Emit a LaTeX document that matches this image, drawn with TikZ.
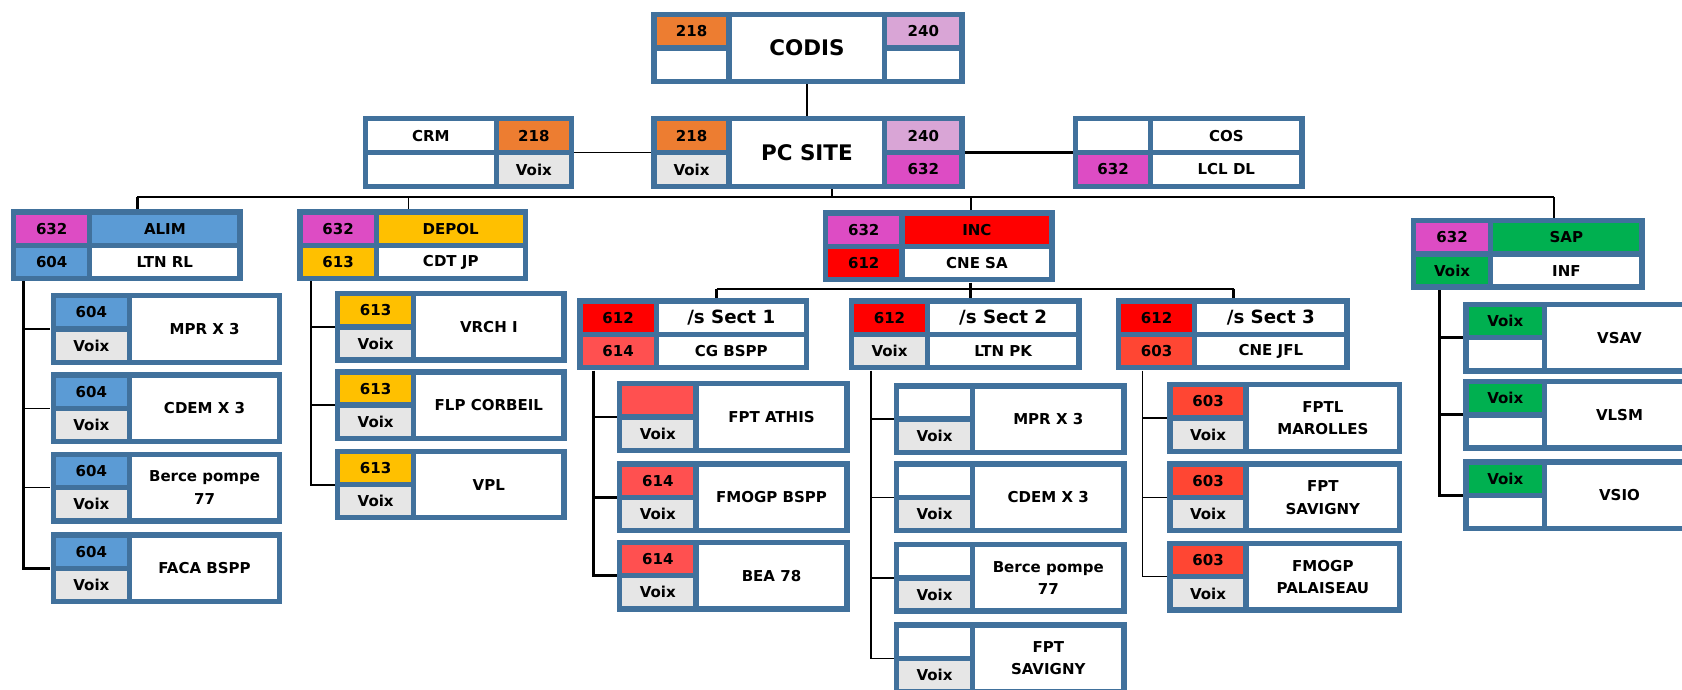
\documentclass[tikz,border=0pt]{standalone}
\usepackage{fontspec}
\setmainfont{DejaVu Sans}
\definecolor{bd}{HTML}{41719C}
\definecolor{cor}{HTML}{ED7D31}
\definecolor{cpl}{HTML}{D9A5D6}
\definecolor{cmg}{HTML}{DD4CC4}
\definecolor{cvx}{HTML}{E6E6E6}
\definecolor{cbl}{HTML}{5B9BD5}
\definecolor{cam}{HTML}{FFC000}
\definecolor{crd}{HTML}{FF0000}
\definecolor{csl}{HTML}{FF5050}
\definecolor{cos}{HTML}{FF4633}
\definecolor{cgr}{HTML}{00B050}
\newcommand\ft{\fontsize{14}{21}\selectfont\bfseries}
\newcommand\fmid{\fontsize{17}{20}\selectfont\bfseries}
\newcommand\fbig{\fontsize{20}{23}\selectfont\bfseries}
\def\B{5}\def\G{5}
\newcommand\mkframe[5]{%
  \def\bn{#1}\def\bx{#2}\def\by{#3}\def\bw{#4}\def\bh{#5}%
  \node[boxframe, minimum width=#4pt, minimum height=#5pt, anchor=north west] (#1) at (#2,#3) {};}
\newcommand\mkcell[7]{%
  \pgfmathsetmacro\cwa{(#4)-(#2)}\pgfmathsetmacro\cha{(#5)-(#3)}%
  \node[cellst, fill=#6, minimum width=\cwa pt, minimum height=\cha pt, anchor=north west] (\bn-#1) at ({\bx+(#2)},{\by+(#3)}) {#7};}
\newcommand\cLT[2]{\mkcell{lt}{\B}{\B}{\B+\lw}{\bh/2-\G/2}{#1}{#2}}
\newcommand\cLB[2]{\mkcell{lb}{\B}{\bh/2+\G/2}{\B+\lw}{\bh-\B}{#1}{#2}}
\newcommand\cRT[2]{\mkcell{rt}{\B+\G+\lw}{\B}{\bw-\B}{\bh/2-\G/2}{#1}{#2}}
\newcommand\cRB[2]{\mkcell{rb}{\B+\G+\lw}{\bh/2+\G/2}{\bw-\B}{\bh-\B}{#1}{#2}}
\newcommand\cRM[2]{\mkcell{rm}{\B+\G+\lw}{\B}{\bw-\B}{\bh-\B}{#1}{#2}}
\newcommand\cCM[2]{\mkcell{cm}{\B+\G+\lw}{\B}{\bw-\B-\G-\rw}{\bh-\B}{#1}{#2}}
\newcommand\cXT[2]{\mkcell{xt}{\bw-\B-\rw}{\B}{\bw-\B}{\bh/2-\G/2}{#1}{#2}}
\newcommand\cXB[2]{\mkcell{xb}{\bw-\B-\rw}{\bh/2+\G/2}{\bw-\B}{\bh-\B}{#1}{#2}}
% child box: name x y w toptext topcolor botcolor bottext righttext
\newcommand\kid[9]{\mkframe{#1}{#2}{#3}{#4}{67}\cLT{#6}{#5}\cLB{#7}{#8}\cRM{white}{#9}}
\begin{document}
\begin{tikzpicture}[x=1pt,y=-1pt,
  boxframe/.style={fill=bd, draw=none, inner sep=0pt, rectangle},
  cellst/.style={draw=none, inner sep=0pt, rectangle, align=center, font=\ft},
  link/.style={draw=black, line width=1.8pt},
  linkthin/.style={draw=black, line width=1.2pt},
  linkthick/.style={draw=black, line width=2.6pt}]
\useasboundingbox[fill=white] (0,0) rectangle (1568,643);
% top
\def\lw{65}\def\rw{67}
\mkframe{codis}{607}{11}{292}{67}
\cLT{cor}{218}\cLB{white}{}\cCM{white}{\fbig CODIS}\cXT{cpl}{240}\cXB{white}{}
\mkframe{pcsite}{607}{108}{292}{68}
\cLT{cor}{218}\cLB{cvx}{Voix}\cCM{white}{\fbig PC SITE}\cXT{cpl}{240}\cXB{cmg}{632}
\def\lw{117}
\mkframe{crm}{338}{108}{197}{68}
\cLT{white}{CRM}\cLB{white}{}\cRT{cor}{218}\cRB{cvx}{Voix}
\def\lw{65}
\mkframe{cosb}{1000}{108}{216}{68}
\cLT{white}{}\cLB{cmg}{632}\cRT{white}{COS}\cRB{white}{LCL DL}
% second row
\def\lw{66}
\mkframe{alim}{10}{195}{216}{67}
\cLT{cmg}{632}\cLB{cbl}{604}\cRT{cbl}{ALIM}\cRB{white}{LTN RL}
\mkframe{depol}{277}{195}{215}{67}
\cLT{cmg}{632}\cLB{cam}{613}\cRT{cam}{DEPOL}\cRB{white}{CDT JP}
\mkframe{inc}{767}{196}{216}{67}
\cLT{cmg}{632}\cLB{crd}{612}\cRT{crd}{INC}\cRB{white}{CNE SA}
\def\lw{67}
\mkframe{sap}{1315}{203}{218}{67}
\cLT{cmg}{632}\cLB{cgr}{Voix}\cRT{cgr}{SAP}\cRB{white}{INF}
% sections
\def\lw{66}
\mkframe{sa}{538}{278}{216}{67}
\cLT{crd}{612}\cLB{csl}{614}\cRT{white}{\fmid /s Sect 1}\cRB{white}{CG BSPP}
\mkframe{sb}{791}{278}{217}{67}
\cLT{crd}{612}\cLB{cvx}{Voix}\cRT{white}{\fmid /s Sect 2}\cRB{white}{LTN PK}
\mkframe{sc}{1040}{278}{218}{67}
\cLT{crd}{612}\cLB{cos}{603}\cRT{white}{\fmid /s Sect 3}\cRB{white}{CNE JFL}
% children
\def\lw{66}
\kid{a1}{47}{273}{216}{604}{cbl}{cvx}{Voix}{MPR X 3}
\kid{a2}{47}{347}{216}{604}{cbl}{cvx}{Voix}{CDEM X 3}
\kid{a3}{47}{421}{216}{604}{cbl}{cvx}{Voix}{Berce pompe\\77}
\kid{a4}{47}{496}{216}{604}{cbl}{cvx}{Voix}{FACA BSPP}
\kid{d1}{312}{271}{216}{613}{cam}{cvx}{Voix}{VRCH I}
\kid{d2}{312}{344}{216}{613}{cam}{cvx}{Voix}{FLP CORBEIL}
\kid{d3}{312}{418}{216}{613}{cam}{cvx}{Voix}{VPL}
\kid{p1}{575}{355}{217}{}{csl}{cvx}{Voix}{FPT ATHIS}
\kid{p2}{575}{430}{217}{614}{csl}{cvx}{Voix}{FMOGP BSPP}
\kid{p3}{575}{503}{217}{614}{csl}{cvx}{Voix}{BEA 78}
\kid{q1}{833}{357}{217}{}{white}{cvx}{Voix}{MPR X 3}
\kid{q2}{833}{430}{217}{}{white}{cvx}{Voix}{CDEM X 3}
\kid{q3}{833}{505}{217}{}{white}{cvx}{Voix}{Berce pompe\\77}
\kid{q4}{833}{580}{217}{}{white}{cvx}{Voix}{FPT\\SAVIGNY}
\kid{r1}{1088}{356}{219}{603}{cos}{cvx}{Voix}{FPTL\\MAROLLES}
\kid{r2}{1088}{430}{219}{603}{cos}{cvx}{Voix}{FPT\\SAVIGNY}
\kid{r3}{1088}{504}{219}{603}{cos}{cvx}{Voix}{FMOGP\\PALAISEAU}
\def\lw{68}
\kid{s1}{1364}{281}{218}{Voix}{cgr}{white}{}{VSAV}
\kid{s2}{1364}{353}{218}{Voix}{cgr}{white}{}{VLSM}
\kid{s3}{1364}{428}{218}{Voix}{cgr}{white}{}{VSIO}
% connectors top
\draw[link] (codis-cm.south |- codis.south) -- (pcsite-cm.north |- pcsite.north);
\draw[linkthin] (crm.east) -- (pcsite.west);
\draw[linkthick] (pcsite.east) -- (cosb.west);
% main bus
\coordinate (bus) at (776,184);
\coordinate (bA) at (128,184);
\coordinate (bD) at (381,184);
\coordinate (bI) at (905,184);
\coordinate (bS) at (1449,184);
\draw[link] (pcsite.south -| bus) -- (bus);
\draw[link] (bA) -- (bS);
\draw[linkthick] (bA) -- (alim.north -| bA);
\draw[linkthin] (bD) -- (depol.north -| bD);
\draw[link] (bI) -- (inc.north -| bI);
\draw[link] (bS) -- (sap.north -| bS);
% INC sub bus
\coordinate (iS) at (905,269);
\coordinate (i1) at (668,269);
\coordinate (i3) at (1150,269);
\draw[linkthick] (inc.south -| iS) -- (sb.north -| iS);
\draw[link] (i1) -- (i3);
\draw[linkthick] (i1) -- (sa.north -| i1);
\draw[linkthick] (i3) -- (sc.north -| i3);
% trunks
\coordinate (tA) at (22,0);
\coordinate (tD) at (290,0);
\coordinate (tP) at (553,0);
\coordinate (tQ) at (812,0);
\coordinate (tR) at (1065,0);
\coordinate (tS) at (1342,0);
\draw[linkthick] (alim.south -| tA) |- (a4.west);
\foreach \k in {a1,a2,a3} \draw[linkthin] (tA |- \k.west) -- (\k.west);
\draw[link] (depol.south -| tD) |- (d3.west);
\foreach \k in {d1,d2} \draw[link] (tD |- \k.west) -- (\k.west);
\draw[linkthick] (sa.south -| tP) |- (p3.west);
\foreach \k in {p1,p2} \draw[linkthick] (tP |- \k.west) -- (\k.west);
\draw[linkthin] (sb.south -| tQ) |- (q4.west);
\foreach \k in {q1,q2,q3} \draw[linkthin] (tQ |- \k.west) -- (\k.west);
\draw[linkthin] (sc.south -| tR) |- (r3.west);
\foreach \k in {r1,r2} \draw[linkthin] (tR |- \k.west) -- (\k.west);
\draw[linkthick] (sap.south -| tS) |- (s3.west);
\foreach \k in {s1,s2} \draw[linkthick] (tS |- \k.west) -- (\k.west);
\end{tikzpicture}
\end{document}
